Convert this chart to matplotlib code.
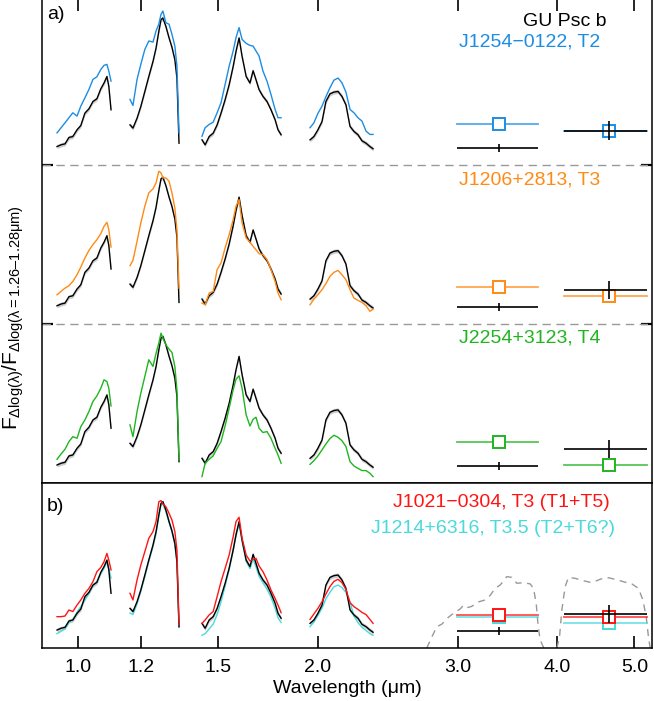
import numpy as np
import matplotlib
matplotlib.use('Agg')
import matplotlib.pyplot as plt
from matplotlib.ticker import FixedLocator, FixedFormatter, NullLocator

plt.rcParams['font.family'] = ['Liberation Sans', 'DejaVu Sans']
plt.rcParams['mathtext.fontset'] = 'custom'
plt.rcParams['mathtext.rm'] = 'Liberation Sans'
plt.rcParams['mathtext.it'] = 'Liberation Sans'
plt.rcParams['mathtext.sf'] = 'Liberation Sans'

# %% data (fluxes normalised, one unit = height of one stacked sub-panel)
# wavelength grids (um) of the four near-IR windows
wl_Y = [0.940, 0.951, 0.962, 0.973, 0.984, 0.996, 1.007, 1.019, 1.031, 1.043,
        1.055, 1.067, 1.077, 1.086, 1.092, 1.099]
wl_J = [1.161, 1.171, 1.185, 1.198, 1.212, 1.226, 1.241, 1.252, 1.262, 1.270,
        1.277, 1.288, 1.300, 1.311, 1.322, 1.330, 1.338]
wl_H = [1.430, 1.443, 1.460, 1.477, 1.494, 1.511, 1.529, 1.547, 1.565, 1.578,
        1.592, 1.606, 1.625, 1.643, 1.658, 1.672, 1.687, 1.706, 1.726, 1.746,
        1.767, 1.782, 1.798]
wl_K = [1.955, 1.977, 2.000, 2.024, 2.047, 2.071, 2.095, 2.120, 2.144, 2.169,
        2.195, 2.220, 2.246, 2.272, 2.299, 2.325, 2.346]
bands = [wl_Y, wl_J, wl_H, wl_K]

# GU Psc b
gu_flux = [[0.113, 0.124, 0.130, 0.170, 0.176, 0.218, 0.245, 0.323, 0.350, 0.396,
            0.413, 0.476, 0.512, 0.553, 0.491, 0.344],
           [0.249, 0.229, 0.291, 0.365, 0.459, 0.553, 0.648, 0.732, 0.836, 0.910,
            0.920, 0.868, 0.795, 0.736, 0.658, 0.543, 0.134],
           [0.155, 0.124, 0.176, 0.197, 0.249, 0.323, 0.407, 0.501, 0.616, 0.711,
            0.795, 0.679, 0.553, 0.512, 0.589, 0.532, 0.470, 0.428, 0.396, 0.344,
            0.281, 0.218, 0.187],
           [0.155, 0.176, 0.218, 0.270, 0.396, 0.444, 0.455, 0.459, 0.428, 0.375,
            0.239, 0.208, 0.187, 0.149, 0.134, 0.113, 0.099]]
gu_err = 0.013

# J1254-0122, T2
j1254_flux = [[0.199, 0.231, 0.262, 0.294, 0.325, 0.304, 0.367, 0.419, 0.472, 0.535,
               0.551, 0.597, 0.623, 0.629, 0.587, 0.524],
              [0.409, 0.371, 0.535, 0.629, 0.723, 0.776, 0.769, 0.839, 0.881, 0.943,
               0.964, 0.891, 0.881, 0.818, 0.744, 0.618, 0.199],
              [0.178, 0.231, 0.252, 0.266, 0.325, 0.388, 0.503, 0.618, 0.713, 0.797,
               0.860, 0.786, 0.761, 0.748, 0.744, 0.713, 0.681, 0.587, 0.524, 0.440,
               0.346, 0.294, 0.294],
              [0.231, 0.262, 0.321, 0.367, 0.426, 0.482, 0.530, 0.543, 0.514, 0.455,
               0.346, 0.325, 0.294, 0.273, 0.210, 0.189, 0.189]]

# J1206+2813, T3
j1206_flux = [[0.182, 0.203, 0.224, 0.239, 0.266, 0.308, 0.356, 0.413, 0.461, 0.497,
               0.528, 0.566, 0.612, 0.637, 0.591, 0.482],
              [0.365, 0.398, 0.518, 0.633, 0.738, 0.822, 0.847, 0.885, 0.958, 0.948,
               0.916, 0.916, 0.895, 0.822, 0.727, 0.591, 0.224],
              [0.130, 0.119, 0.193, 0.203, 0.340, 0.382, 0.476, 0.560, 0.654, 0.738,
               0.780, 0.633, 0.539, 0.512, 0.486, 0.465, 0.440, 0.434, 0.403, 0.340,
               0.266, 0.193, 0.151],
              [0.119, 0.155, 0.182, 0.214, 0.252, 0.298, 0.323, 0.335, 0.308, 0.277,
               0.214, 0.161, 0.147, 0.134, 0.113, 0.078, 0.092]]

# J2254+3123, T4
j2254_flux = [[0.149, 0.182, 0.212, 0.260, 0.291, 0.281, 0.354, 0.396, 0.449, 0.512,
               0.547, 0.595, 0.648, 0.637, 0.595, 0.484],
              [0.365, 0.291, 0.449, 0.564, 0.669, 0.774, 0.732, 0.815, 0.878, 0.941,
               0.910, 0.868, 0.841, 0.820, 0.732, 0.585, 0.145],
              [0.040, 0.124, 0.149, 0.170, 0.218, 0.260, 0.358, 0.470, 0.585, 0.652,
               0.673, 0.595, 0.428, 0.358, 0.400, 0.413, 0.344, 0.317, 0.323, 0.281,
               0.218, 0.176, 0.124],
              [0.117, 0.140, 0.170, 0.208, 0.245, 0.279, 0.300, 0.287, 0.266, 0.229,
               0.134, 0.107, 0.092, 0.078, 0.078, 0.061, 0.040]]

# J1021-0304, T3 (T1+T5)
j1021_flux = [[0.197, 0.197, 0.201, 0.239, 0.229, 0.270, 0.302, 0.344, 0.375, 0.417,
               0.480, 0.507, 0.543, 0.595, 0.553, 0.491],
              [0.344, 0.302, 0.428, 0.522, 0.606, 0.690, 0.732, 0.795, 0.920, 0.927,
               0.906, 0.889, 0.847, 0.805, 0.732, 0.616, 0.145],
              [0.155, 0.176, 0.208, 0.229, 0.323, 0.417, 0.501, 0.585, 0.700, 0.795,
               0.822, 0.690, 0.585, 0.547, 0.558, 0.564, 0.516, 0.480, 0.428, 0.365,
               0.312, 0.270, 0.222],
              [0.180, 0.214, 0.249, 0.291, 0.340, 0.386, 0.419, 0.432, 0.411, 0.369,
               0.285, 0.260, 0.243, 0.224, 0.210, 0.180, 0.155]]

# J1214+6316, T3.5 (T2+T6?)
j1214_flux = [[0.090, 0.105, 0.120, 0.160, 0.180, 0.225, 0.260, 0.300, 0.345, 0.390,
               0.420, 0.470, 0.505, 0.540, 0.500, 0.440],
              [0.220, 0.210, 0.280, 0.360, 0.450, 0.550, 0.640, 0.720, 0.830, 0.900,
               0.905, 0.860, 0.790, 0.730, 0.650, 0.540, 0.130],
              [0.080, 0.090, 0.120, 0.150, 0.210, 0.290, 0.390, 0.500, 0.620, 0.720,
               0.780, 0.670, 0.545, 0.500, 0.560, 0.510, 0.450, 0.410, 0.370, 0.320,
               0.250, 0.190, 0.160],
              [0.134, 0.164, 0.205, 0.250, 0.310, 0.350, 0.385, 0.396, 0.380, 0.350,
               0.290, 0.200, 0.160, 0.130, 0.110, 0.090, 0.080]]

# WISE W1 / W2 photometry
w_cen = [3.38, 4.64]
w_lo = [2.99, 4.08]
w_hi = [3.78, 5.19]
gu_phot = [0.104, 0.213]
gu_phot_err = [0.025, 0.058]
j1254_phot = [0.252, 0.208]
j1206_phot = [0.230, 0.172]
j2254_phot = [0.256, 0.115]
j1021_phot = [0.205, 0.193]
j1214_phot = [0.197, 0.159]

# WISE filter curves (scaled)
w1_curve_wl = [2.741, 2.782, 2.822, 2.863, 2.918, 2.960, 3.018, 3.050, 3.090, 3.122,
               3.183, 3.245, 3.292, 3.340, 3.389, 3.421, 3.455, 3.506, 3.557, 3.626,
               3.697, 3.733, 3.762, 3.784, 3.806, 3.842, 3.880]
w1_curve = [0.0, 0.071, 0.134, 0.150, 0.193, 0.218, 0.245, 0.270, 0.255, 0.262,
            0.290, 0.302, 0.330, 0.375, 0.396, 0.420, 0.449, 0.444, 0.407, 0.411,
            0.403, 0.375, 0.281, 0.134, 0.050, 0.004, 0.0]
w2_curve_wl = [3.994, 4.025, 4.052, 4.091, 4.130, 4.212, 4.313, 4.419, 4.527, 4.615,
               4.728, 4.843, 4.962, 5.058, 5.123, 5.172, 5.206, 5.232]
w2_curve = [0.0, 0.071, 0.239, 0.386, 0.444, 0.438, 0.423, 0.411, 0.432, 0.444,
            0.432, 0.417, 0.403, 0.375, 0.302, 0.197, 0.071, 0.0]

c_blue = '#1c8de4'
c_orange = '#ff8a14'
c_green = '#1fb51f'
c_red = '#ff1414'
c_cyan = '#4ad9dc'

# %% helpers
def plot_gu(ax, off):
    for wl, f in zip(bands, gu_flux):
        f = np.array(f) + off
        ax.fill_between(wl, f - gu_err, f + gu_err, color='0.8', lw=0)
        ax.plot(wl, f, color='k', lw=1.0)


def plot_spec(ax, flux, off, color):
    for wl, f in zip(bands, flux):
        ax.plot(wl, np.array(f) + off, color=color, lw=1.0)


def plot_phot(ax, vals, off, color):
    for c, lo, hi, v in zip(w_cen, w_lo, w_hi, vals):
        ax.plot([lo, hi], [v + off, v + off], color=color, lw=1.3, alpha=0.75)
        ax.plot(c, v + off, 's', mfc='white', mec=color, ms=8, mew=1.4)


def plot_gu_phot(ax, off):
    for c, lo, hi, v, e in zip(w_cen, w_lo, w_hi, gu_phot, gu_phot_err):
        ax.errorbar(c, v + off, yerr=e, xerr=[[c - lo], [hi - c]], fmt='none',
                    ecolor='k', elinewidth=1.2, capsize=0)


def setup_x(ax):
    ax.set_xscale('log')
    ax.set_xlim(0.90, 5.26)
    ax.xaxis.set_major_locator(FixedLocator([1.0, 1.2, 1.5, 2.0, 3.0, 4.0, 5.0]))
    ax.xaxis.set_major_formatter(FixedFormatter(['1.0', '1.2', '1.5', '2.0', '3.0', '4.0', '5.0']))
    ax.xaxis.set_minor_locator(NullLocator())
    for s in ax.spines.values():
        s.set_linewidth(1.1)


# %% figure
W, H = 654, 701
fig = plt.figure(figsize=(W / 100, H / 100), dpi=100)
ax_a = fig.add_axes([42 / W, 1 - 483 / H, 610 / W, 483 / H + 0.001])
ax_b = fig.add_axes([42 / W, 1 - 648 / H, 610 / W, 165 / H])

# panel a: three comparisons stacked
setup_x(ax_a)
ax_a.set_ylim(0, 483 / 159)
for y in [1, 2]:
    ax_a.axhline(y, color='0.6', lw=1.0, ls=(0, (6, 4)))

for off, flux, phot, col in [(2, j1254_flux, j1254_phot, c_blue),
                             (1, j1206_flux, j1206_phot, c_orange),
                             (0, j2254_flux, j2254_phot, c_green)]:
    plot_gu(ax_a, off)
    plot_spec(ax_a, flux, off, col)
    plot_phot(ax_a, phot, off, col)
    plot_gu_phot(ax_a, off)

ax_a.tick_params(axis='x', which='both', direction='in', top=True, bottom=False,
                 labelbottom=False, labeltop=False, length=8.5, width=1.2)
ax_a.set_yticks([1, 2])
ax_a.tick_params(axis='y', direction='in', left=True, right=True,
                 labelleft=False, length=8, width=1.6)

ax_a.text(0.008, 0.968, 'a)', transform=ax_a.transAxes, fontsize=14, va='center', ha='left')
ax_a.text(0.926, 0.954, 'GU Psc b', transform=ax_a.transAxes, fontsize=14,
          va='center', ha='right', color='k')
ax_a.text(0.915, 0.911, 'J1254\u22120122, T2', transform=ax_a.transAxes, fontsize=14,
          va='center', ha='right', color=c_blue)
ax_a.text(0.915, 0.627, 'J1206+2813, T3', transform=ax_a.transAxes, fontsize=14,
          va='center', ha='right', color=c_orange)
ax_a.text(0.915, 0.300, 'J2254+3123, T4', transform=ax_a.transAxes, fontsize=14,
          va='center', ha='right', color=c_green)

# panel b: spectral binary candidates
setup_x(ax_b)
ax_b.set_ylim(0, 165 / 159)
ax_b.plot(w1_curve_wl, w1_curve, color='0.6', lw=1.0, ls=(0, (5, 4)))
ax_b.plot(w2_curve_wl, w2_curve, color='0.6', lw=1.0, ls=(0, (5, 4)))
plot_spec(ax_b, j1214_flux, 0, c_cyan)
plot_gu(ax_b, 0)
plot_spec(ax_b, j1021_flux, 0, c_red)
plot_phot(ax_b, j1214_phot, 0, c_cyan)
plot_phot(ax_b, j1021_phot, 0, c_red)
plot_gu_phot(ax_b, 0)

ax_b.tick_params(axis='x', which='both', direction='in', top=False, bottom=True,
                 length=8.5, width=1.2, labelsize=14, pad=8)
ax_b.set_yticks([])
ax_b.set_xlabel('Wavelength (\u03bcm)', fontsize=14, labelpad=3)

ax_b.text(0.008, 0.855, 'b)', transform=ax_b.transAxes, fontsize=14, va='center', ha='left')
ax_b.text(0.931, 0.879, 'J1021\u22120304, T3 (T1+T5)', transform=ax_b.transAxes,
          fontsize=14, va='center', ha='right', color=c_red)
ax_b.text(0.939, 0.727, 'J1214+6316, T3.5 (T2+T6?)', transform=ax_b.transAxes,
          fontsize=14, va='center', ha='right', color=c_cyan)

ylab = r'$\mathregular{F_{\Delta log(\lambda)}/F_{\Delta log(\lambda{=}1.26–1.28\mu m)}}$'
fig.text(13 / W, 1 - 318 / H, ylab, rotation=90, ha='center', va='center', fontsize=15)

fig.savefig('out.png', dpi=100)
